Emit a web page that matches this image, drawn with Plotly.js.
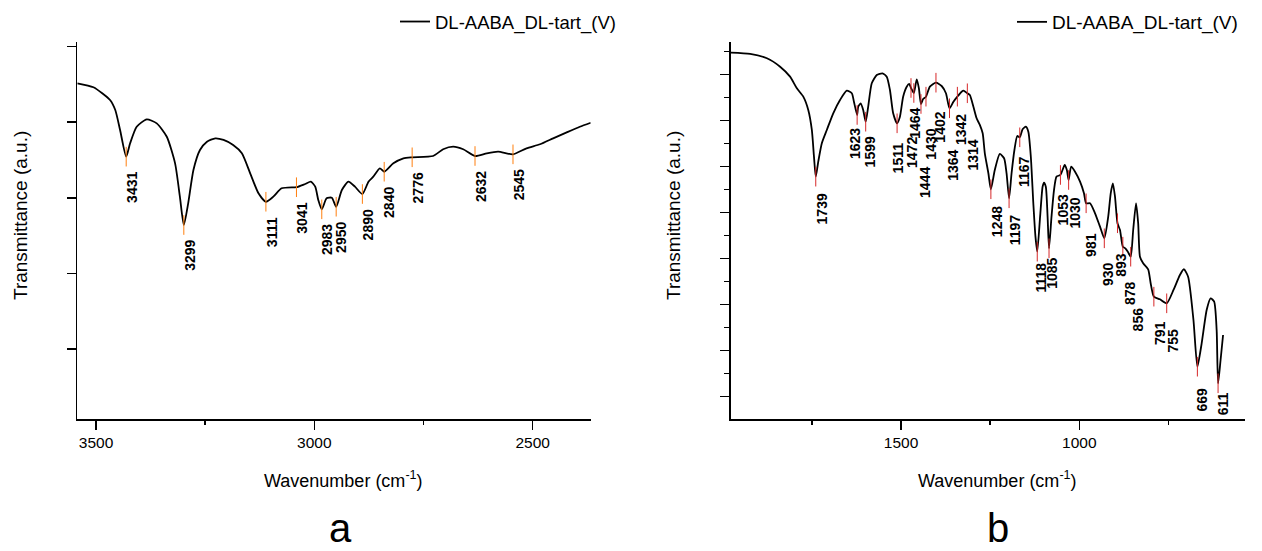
<!DOCTYPE html>
<html>
<head>
<meta charset="utf-8">
<script src="https://cdn.plot.ly/plotly-3.0.1.min.js"></script>
<style>html,body{margin:0;padding:0;background:#fff;}#chart{width:1262px;height:551px;}</style>
</head>
<body>
<div id="chart"></div>
<script>
// ---------- data ----------
const seriesName = "DL-AABA_DL-tart_(V)";

// panel a : 3543 - 2367 cm-1
const leftWn = [3543,3506,3468,3456,3445,3431,3422,3407,3384,3361,3338,3319,3308,3299,3289,3277,3262,3246,3227,3208,3186,3166,3147,3128,3111,3094,3075,3048,3041,3021,3008,2998,2991,2983,2972,2960,2950,2937,2922,2907,2890,2876,2865,2850,2840,2819,2796,2776,2728,2705,2682,2659,2632,2605,2579,2545,2514,2483,2453,2422,2392,2367];
const leftT = [35.15,34.62,32.94,31.61,28.97,25.44,27.21,29.40,30.38,29.85,28.08,24.56,20.15,16.40,19.27,23.68,26.32,27.42,27.87,27.65,26.98,25.89,23.24,20.60,19.48,20.15,21.26,21.39,21.40,21.83,22.13,21.47,19.71,18.48,19.93,20.01,18.82,21.03,22.13,21.47,20.50,22.13,22.79,23.90,23.45,24.56,25.22,25.36,25.53,26.42,26.76,26.42,25.53,25.89,26.10,25.75,26.55,27.08,27.87,28.66,29.40,29.93];
const leftPeaks = [3431,3299,3111,3041,2983,2950,2890,2840,2776,2632,2545];

// panel b : 1977 - 597 cm-1
const rightWn = [1977,1923,1876,1839,1811,1792,1774,1760,1750,1744,1739,1732,1722,1708,1690,1671,1652,1638,1632,1623,1620,1613,1606,1599,1592,1582,1568,1552,1540,1531,1522,1511,1503,1494,1484,1477,1472,1464,1456,1450,1444,1438,1430,1419,1402,1386,1374,1364,1353,1342,1330,1325,1314,1307,1297,1288,1279,1271,1265,1255,1248,1237,1223,1211,1204,1197,1190,1182,1174,1167,1159,1150,1143,1136,1129,1123,1118,1110,1103,1099,1094,1089,1085,1078,1071,1064,1053,1041,1035,1030,1023,1012,998,987,981,970,956,942,930,919,912,906,900,893,886,878,871,864,856,849,841,835,830,821,807,800,791,774,755,736,718,707,695,680,669,657,643,632,622,615,611,604,597];
const rightT = [74.78,74.5,73.57,71.74,69.57,67.04,65.22,62.33,57.98,52.17,47.83,51.09,55.09,57.98,61.61,64.5,66.52,65.96,64.13,61.24,63.04,63.78,62.33,59.78,63.04,68.13,69.93,70.30,69.57,66.67,61.61,59.43,60.87,65.22,67.39,67.98,67.11,66.02,69.0,67.11,63.63,64.72,65.22,67.39,68.26,67.54,65.96,62.7,64.13,65.22,66.30,66.52,65.96,65.59,63.04,60.52,59.07,57.26,52.91,48.57,45.09,49.28,52.76,51.83,48.57,43.13,48.57,53.63,56.67,56.39,58.13,58.70,57.61,52.17,42.04,34.78,31.52,39.13,45.65,46.52,45.65,39.13,32.26,39.13,44.93,47.83,48.2,50.37,49.28,47.11,50.0,48.91,46.74,44.22,42.04,42.04,39.87,36.96,34.43,39.13,44.22,46.39,43.48,37.70,36.24,32.61,32.26,31.52,30.43,36.24,42.04,37.70,30.43,29.0,27.70,24.65,21.74,21.17,20.30,23.2,26.46,27.70,26.09,16.67,6.52,11.61,18.85,21.39,20.65,14.5,2.91,7.98,13.41];
const rightPeaks = [1739,1623,1599,1511,1472,1464,1444,1430,1402,1364,1342,1314,1248,1197,1167,1118,1085,1053,1030,981,930,893,878,856,791,755,669,611];

// ---------- label placement (pixels, layout only) ----------
const leftLabelDx = 5.5, leftLabelDy = 15.5;
const rightLabelDx = [6,-2,4,1,1,1,4,5,4,4,3,6,6,6,5,4,3.5,3,6,5,4,3.5,7,7.5,6,6,5,5];
const rightLabelDy = [17,14,15,20,49,15,63,32,29,42,18,47,17,17,19,11,10,20,18,30,24,30,35,51,25,26,21,10];

// ---------- helpers ----------
function valueAt(xs, ys, x){
  for(let i=0;i<xs.length-1;i++){
    const a=xs[i], b=xs[i+1];
    if((x<=a && x>=b) || (x>=a && x<=b)){
      const t = (a===b)?0:(x-a)/(b-a);
      return ys[i] + t*(ys[i+1]-ys[i]);
    }
  }
  return ys[ys.length-1];
}
const FONT = "Liberation Sans, Arial, Helvetica, sans-serif";

const leftPeakT = leftPeaks.map(w=>valueAt(leftWn,leftT,w));
const rightPeakT = rightPeaks.map(w=>valueAt(rightWn,rightT,w));

const traces = [
  {x:leftWn, y:leftT, xaxis:'x', yaxis:'y', type:'scatter', mode:'lines', name:seriesName,
   line:{color:'#000', width:1.8, shape:'spline', smoothing:0.6}, legend:'legend', showlegend:true},
  {x:leftPeaks, y:leftPeakT, xaxis:'x', yaxis:'y', type:'scatter', mode:'markers', showlegend:false,
   marker:{symbol:'line-ns-open', size:14, line:{color:'#ff0000', width:1}}},
  {x:rightWn, y:rightT, xaxis:'x2', yaxis:'y2', type:'scatter', mode:'lines', name:seriesName,
   line:{color:'#000', width:1.8, shape:'spline', smoothing:0.6}, legend:'legend2', showlegend:true},
  {x:rightPeaks, y:rightPeakT, xaxis:'x2', yaxis:'y2', type:'scatter', mode:'markers', showlegend:false,
   marker:{symbol:'line-ns-open', size:14, line:{color:'#ff0000', width:1}}}
];

const annotations = [];
leftPeaks.forEach((w,i)=>{
  annotations.push({xref:'x', yref:'y', x:w, y:leftPeakT[i], text:'<b>'+w+'</b>', textangle:-90,
    showarrow:false, xanchor:'center', yanchor:'top', xshift:leftLabelDx, yshift:-(leftLabelDy-2.5),
    font:{family:FONT, size:14, color:'#000'}});
});
rightPeaks.forEach((w,i)=>{
  annotations.push({xref:'x2', yref:'y2', x:w, y:rightPeakT[i], text:'<b>'+w+'</b>', textangle:-90,
    showarrow:false, xanchor:'center', yanchor:'top', xshift:rightLabelDx[i], yshift:-(rightLabelDy[i]-2.5),
    font:{family:FONT, size:14, color:'#000'}});
});
// axis titles and panel letters
const xTitle = 'Wavenumber (cm<sup>-1</sup>)';
const yTitle = 'Transmittance (a.u.)';
annotations.push({xref:'paper', yref:'paper', x:343/1262, y:1-479/551, text:xTitle, showarrow:false,
  xanchor:'center', yanchor:'middle', font:{family:FONT, size:18, color:'#000'}});
annotations.push({xref:'paper', yref:'paper', x:998/1262, y:1-479/551, text:xTitle, showarrow:false,
  xanchor:'center', yanchor:'middle', font:{family:FONT, size:18, color:'#000'}});
annotations.push({xref:'paper', yref:'paper', x:20/1262, y:1-216/551, text:yTitle, textangle:-90, showarrow:false,
  xanchor:'center', yanchor:'middle', font:{family:FONT, size:19, color:'#000'}});
annotations.push({xref:'paper', yref:'paper', x:673/1262, y:1-216/551, text:yTitle, textangle:-90, showarrow:false,
  xanchor:'center', yanchor:'middle', font:{family:FONT, size:19, color:'#000'}});
annotations.push({xref:'paper', yref:'paper', x:340/1262, y:0, text:'a', showarrow:false,
  xanchor:'center', yanchor:'bottom', borderpad:0, font:{family:FONT, size:40, color:'#000'}});
annotations.push({xref:'paper', yref:'paper', x:998/1262, y:0, text:'b', showarrow:false,
  xanchor:'center', yanchor:'bottom', borderpad:0, font:{family:FONT, size:40, color:'#000'}});

const yDom = [1-419/551, 1-41.7/551];
const axBase = {showgrid:false, zeroline:false, showline:true, linecolor:'#000', linewidth:1.5,
  ticks:'outside', tickcolor:'#000', tickwidth:1.5, ticklen:9,
  tickfont:{family:FONT, size:15.5, color:'#000'}};

const layout = {
  width:1262, height:551, margin:{l:0,r:0,t:0,b:0}, paper_bgcolor:'#fff', plot_bgcolor:'rgba(0,0,0,0)',
  showlegend:true, hovermode:false,
  xaxis: Object.assign({}, axBase, {domain:[77.3/1262, 590.7/1262], range:[3543,2367], anchor:'y',
    tickvals:[3500,3000,2500], ticktext:['3500','3000','2500'],
    minor:{tickvals:[3250,2750], ticklen:4, tickcolor:'#000', tickwidth:1.5, ticks:'outside'}}),
  yaxis: Object.assign({}, axBase, {domain:yDom, range:[-9.26,40.65], anchor:'x',
    tickvals:[0,10,20,30,40], showticklabels:false}),
  xaxis2: Object.assign({}, axBase, {domain:[730.7/1262, 1245/1262], range:[1977.5,535.5], anchor:'y2',
    tickvals:[1500,1000], ticktext:['1500','1000'],
    minor:{tickvals:[1750,1250,750], ticklen:4, tickcolor:'#000', tickwidth:1.5, ticks:'outside'}}),
  yaxis2: Object.assign({}, axBase, {domain:yDom, range:[-4.85,77.17], anchor:'x2',
    tickvals:[0,10,20,30,40,50,60,70], showticklabels:false,
    minor:{tickvals:[5,15,25,35,45,55,65,75], ticklen:5, tickcolor:'#000', tickwidth:1.5, ticks:'outside'}}),
  legend: {x:(437-42)/1262, y:1-22/551, xanchor:'left', yanchor:'middle', bgcolor:'rgba(0,0,0,0)',
    borderwidth:0, font:{family:FONT, size:18.5, color:'#000'}},
  legend2: {x:(1054-42)/1262, y:1-22/551, xanchor:'left', yanchor:'middle', bgcolor:'rgba(0,0,0,0)',
    borderwidth:0, font:{family:FONT, size:19, color:'#000'}},
  annotations: annotations
};

Plotly.newPlot('chart', traces, layout, {staticPlot:true, displayModeBar:false});
</script>
</body>
</html>
